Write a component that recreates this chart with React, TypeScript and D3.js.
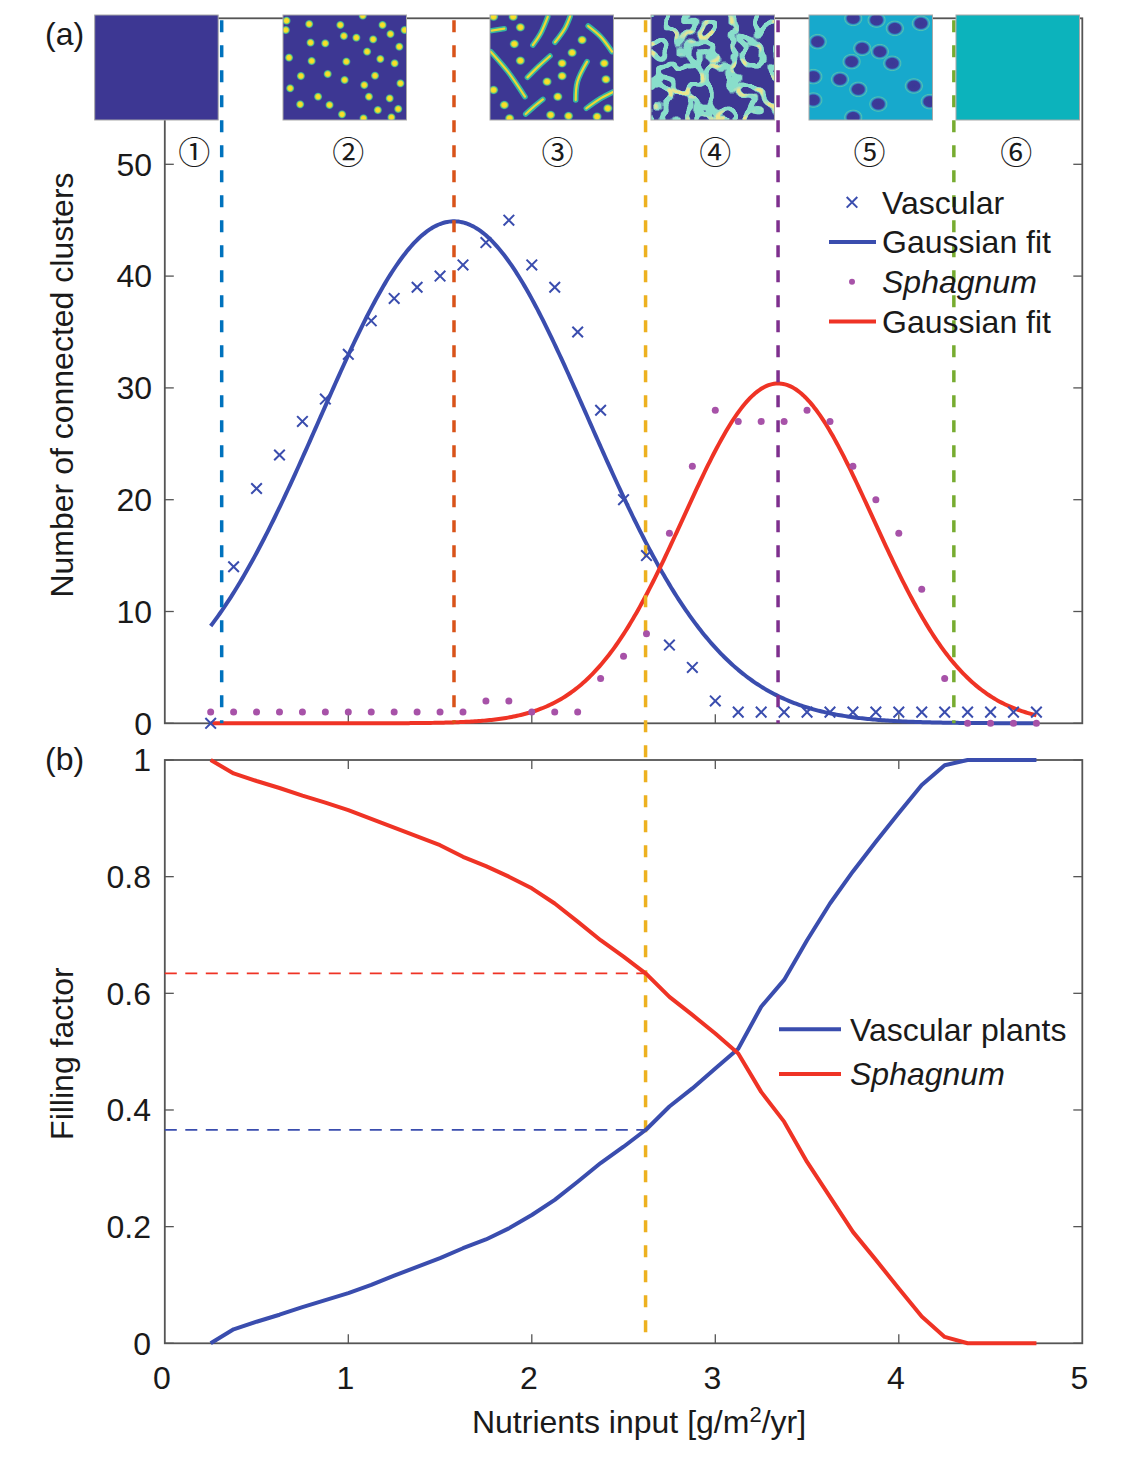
import React from 'react';
import * as d3 from 'd3';

// Nutrient input levels of the simulations [g/m2/yr]
const nutrientInput = [0.25, 0.375, 0.5, 0.625, 0.75, 0.875, 1, 1.125, 1.25, 1.375, 1.5, 1.625, 1.75, 1.875, 2, 2.125, 2.25, 2.375, 2.5, 2.625, 2.75, 2.875, 3, 3.125, 3.25, 3.375, 3.5, 3.625, 3.75, 3.875, 4, 4.125, 4.25, 4.375, 4.5, 4.625, 4.75];

// (a) number of connected clusters
const vascularClusters = [0, 14, 21, 24, 27, 29, 33, 36, 38, 39, 40, 41, 43, 45, 41, 39, 35, 28, 20, 15, 7, 5, 2, 1, 1, 1, 1, 1, 1, 1, 1, 1, 1, 1, 1, 1, 1];
const sphagnumClusters = [1, 1, 1, 1, 1, 1, 1, 1, 1, 1, 1, 1, 2, 2, 1, 1, 1, 4, 6, 8, 17, 23, 28, 27, 27, 27, 28, 27, 23, 20, 17, 12, 4, 0, 0, 0, 0];

// (b) filling factor
const vascularFilling = [0, 0.024, 0.037, 0.049, 0.062, 0.074, 0.086, 0.1, 0.116, 0.131, 0.146, 0.163, 0.178, 0.197, 0.22, 0.246, 0.277, 0.309, 0.337, 0.367, 0.406, 0.437, 0.471, 0.505, 0.577, 0.623, 0.691, 0.754, 0.809, 0.86, 0.909, 0.957, 0.991, 1, 1, 1, 1];
const sphagnumFilling = [1, 0.977, 0.964, 0.952, 0.939, 0.927, 0.914, 0.899, 0.884, 0.869, 0.854, 0.834, 0.818, 0.8, 0.78, 0.754, 0.723, 0.691, 0.663, 0.633, 0.594, 0.563, 0.531, 0.497, 0.431, 0.38, 0.311, 0.251, 0.191, 0.143, 0.094, 0.046, 0.011, 0, 0, 0, 0];

// Gaussian fits  a * exp(-((x - b) / c)^2)
const vascularFit = { a: 44.9, b: 1.576, c: 1.035 };
const sphagnumFit = { a: 30.4, b: 3.342, c: 0.728 };

// Regime boundaries (nutrient input)
const regimeBounds = [0.31, vascularFit.b, 2.62, sphagnumFit.b, 4.3];
const regimeLabels = ['①', '②', '③', '④', '⑤', '⑥'];
const regimeLabelX = [0.16, 1.0, 2.14, 3.0, 3.84, 4.64];

const clusterTicks = [0, 10, 20, 30, 40, 50];
const fillingTicks = [0, 0.2, 0.4, 0.6, 0.8, 1];
const nutrientTicks = [0, 1, 2, 3, 4, 5];

// Pattern snapshots: spot / stripe / hole positions as fractions of a tile
const spotsTile2 = [[.029,.054],[.023,.143],[.212,.086],[.464,.095],[.646,.006],[.806,.095],[.985,.143],[.493,.2],[.594,.216],[.73,.232],[.87,.181],[.223,.263],[.342,.27],[.681,.349],[.942,.302],[.049,.406],[.232,.438],[.513,.444],[.788,.419],[.904,.46],[.145,.581],[.362,.562],[.499,.619],[.745,.578],[.951,.651],[.058,.698],[.658,.667],[.284,.778],[.696,.778],[.864,.794],[.139,.851],[.377,.857],[.768,.905],[.933,.895],[.478,.946],[.652,.984],[.878,.975]];
const spotsTile3 = [[.029,.016],[.188,.016],[.246,.117],[.197,.276],[.746,.238],[.665,.359],[.925,.46],[.246,.435],[.584,.46],[.584,.581],[.462,.635],[.939,.613],[.029,.714],[.549,.778],[.116,.857],[.491,.952],[.636,.962],[.867,.968],[.954,.889],[.159,.984]];
const stripesTile3 = [
  [[.014,.149],[.116,.13]],
  [[.347,.286],[.41,.175],[.468,.016]],
  [[.526,.26],[.607,.127],[.65,.01]],
  [[.795,.105],[.896,.206],[.988,.349]],
  [[.006,.349],[.145,.54],[.283,.778]],
  [[.303,.594],[.39,.492],[.486,.39]],
  [[.694,.81],[.708,.635],[.786,.444]],
  [[.78,.889],[.896,.794],[1.0,.73]],
  [[.289,.943],[.361,.867],[.428,.803]],
];
const holesTile5 = [[.358,.032],[.547,.048],[.695,.127],[.906,.079],[.07,.254],[.431,.317],[.574,.349],[.345,.444],[.674,.46],[.035,.587],[.251,.613],[.399,.708],[.849,.676],[.035,.81],[.561,.848],[.978,.825],[.358,.975]];

// ---- layout ----
const W = 1131, H = 1460;
const X0 = 164.8, X1 = 1082.3;
const A_TOP = 18.3, A_BOT = 723.3;
const B_TOP = 760, B_BOT = 1343.3;
const tileLeft = [94.7, 283, 490, 651, 809, 956];
const TILE_W = 123.5, TILE_TOP = 15, TILE_H = 105;

// ---- styles ----
const FONT = 'Liberation Sans, Arial, Helvetica, sans-serif';
const AXIS = '#555555';
const BLUE = '#3a4dae';
const RED = '#ef3325';
const PURPLE_DOT = '#a752a8';
const boundColors = ['#0072BD', '#D95319', '#EDB120', '#7E2F8E', '#77AC30'];
const LOW = '#3d3793';
const TEAL = '#0cb3bc';
const LW = 4;

const xS = d3.scaleLinear().domain([0, 5]).range([X0, X1]);
const yA = d3.scaleLinear().domain([0, 50]).range([A_BOT, 164.3]);
const yB = d3.scaleLinear().domain([0, 1]).range([B_BOT, B_TOP]);

const gauss = (p: { a: number; b: number; c: number }) => (x: number) => p.a * Math.exp(-Math.pow((x - p.b) / p.c, 2));
const fitGrid = d3.range(0, 451).map((i) => 0.25 + i * 0.01);

const lineA = d3.line<number[]>().x((d) => xS(d[0])).y((d) => yA(d[1]));
const lineB = d3.line<number[]>().x((d) => xS(d[0])).y((d) => yB(d[1]));

function Ticks({ top, bottom, yScale, yTicks }: any) {
  const len = 9;
  return (
    <g stroke={AXIS} strokeWidth={1.3}>
      {yTicks.map((t: number) => (
        <g key={'y' + t}>
          <line x1={X0} x2={X0 + len} y1={yScale(t)} y2={yScale(t)} />
          <line x1={X1} x2={X1 - len} y1={yScale(t)} y2={yScale(t)} />
        </g>
      ))}
      {nutrientTicks.slice(1, -1).map((t) => (
        <g key={'x' + t}>
          <line x1={xS(t)} x2={xS(t)} y1={bottom} y2={bottom - len} />
          <line x1={xS(t)} x2={xS(t)} y1={top} y2={top + len} />
        </g>
      ))}
    </g>
  );
}

function Tiles() {
  const stripe = (l: number) =>
    d3.line<number[]>().x((d) => l + d[0] * TILE_W).y((d) => TILE_TOP + d[1] * TILE_H).curve(d3.curveCatmullRom.alpha(0.5));
  // narrow band of the noise field around its median value
  const band = (peak: number, half: number) =>
    d3.range(41).map((i) => (Math.abs(i - 20) <= half ? peak : 0)).join(' ');
  return (
    <g>
      <defs>
        {tileLeft.map((l, i) => (
          <clipPath id={'tile' + i} key={i}>
            <rect x={l} y={TILE_TOP} width={TILE_W} height={TILE_H} />
          </clipPath>
        ))}
        <radialGradient id="spot">
          <stop offset="0" stopColor="#fbe722" />
          <stop offset="0.45" stopColor="#f2da2e" />
          <stop offset="0.72" stopColor="#45bc8e" />
          <stop offset="1" stopColor={LOW} stopOpacity="0" />
        </radialGradient>
        <radialGradient id="hole">
          <stop offset="0" stopColor="#3a3896" />
          <stop offset="0.58" stopColor="#3d3a98" />
          <stop offset="0.72" stopColor="#3093c8" />
          <stop offset="0.86" stopColor="#4fc3b3" />
          <stop offset="1" stopColor="#17a9cc" stopOpacity="0" />
        </radialGradient>
        <filter id="soft" x="-10%" y="-10%" width="120%" height="120%">
          <feGaussianBlur stdDeviation="0.6" />
        </filter>
        <filter id="maze" filterUnits="userSpaceOnUse" x={tileLeft[3]} y={TILE_TOP} width={TILE_W} height={TILE_H}>
          <feTurbulence type="fractalNoise" baseFrequency="0.045" numOctaves="2" seed="4" result="noise" />
          <feColorMatrix in="noise" type="matrix" values="0 0 0 0 0.25  0 0 0 0 0.73  0 0 0 0 0.6  1 0 0 0 0" result="teal" />
          <feComponentTransfer in="teal" result="band">
            <feFuncA type="table" tableValues={band(1, 1)} />
          </feComponentTransfer>
          <feMorphology in="band" operator="dilate" radius="0.8" result="bandD" />
          <feGaussianBlur in="bandD" stdDeviation="0.6" result="bandS" />
          <feColorMatrix in="noise" type="matrix" values="0 0 0 0 0.95  0 0 0 0 0.8  0 0 0 0 0.2  1 0 0 0 0" result="yel" />
          <feComponentTransfer in="yel" result="core">
            <feFuncA type="table" tableValues={band(0.9, 0)} />
          </feComponentTransfer>
          <feMorphology in="core" operator="dilate" radius="0.5" result="coreD" />
          <feTurbulence type="fractalNoise" baseFrequency="0.07" numOctaves="1" seed="11" result="n2" />
          <feColorMatrix in="n2" type="matrix" values="0 0 0 0 0  0 0 0 0 0  0 0 0 0 0  1 0 0 0 0" result="m2" />
          <feComponentTransfer in="m2" result="mask">
            <feFuncA type="table" tableValues="0 0 0 0 0 0 1 1 1 1" />
          </feComponentTransfer>
          <feComposite in="coreD" in2="mask" operator="in" result="core2" />
          <feMerge>
            <feMergeNode in="bandS" />
            <feMergeNode in="core2" />
          </feMerge>
        </filter>
      </defs>

      {/* 1: bare */}
      <rect x={tileLeft[0]} y={TILE_TOP} width={TILE_W} height={TILE_H} fill={LOW} />

      {/* 2: spots */}
      <g clipPath="url(#tile1)">
        <rect x={tileLeft[1]} y={TILE_TOP} width={TILE_W} height={TILE_H} fill={LOW} />
        {spotsTile2.map((s, i) => (
          <circle key={i} cx={tileLeft[1] + s[0] * TILE_W} cy={TILE_TOP + s[1] * TILE_H} r={4.8} fill="url(#spot)" />
        ))}
      </g>

      {/* 3: spots and stripes */}
      <g clipPath="url(#tile2)">
        <rect x={tileLeft[2]} y={TILE_TOP} width={TILE_W} height={TILE_H} fill={LOW} />
        <g filter="url(#soft)" fill="none" strokeLinecap="round" strokeLinejoin="round">
          {stripesTile3.map((s, i) => (
            <g key={i}>
              <path d={stripe(tileLeft[2])(s) || ''} stroke="#34b6a2" strokeWidth={5.5} />
              <path d={stripe(tileLeft[2])(s) || ''} stroke="#eed832" strokeWidth={2.2} />
            </g>
          ))}
        </g>
        {spotsTile3.map((s, i) => (
          <ellipse key={i} cx={tileLeft[2] + s[0] * TILE_W} cy={TILE_TOP + s[1] * TILE_H} rx={5.4} ry={5} fill="url(#spot)" />
        ))}
      </g>

      {/* 4: labyrinth */}
      <g clipPath="url(#tile3)">
        <rect x={tileLeft[3]} y={TILE_TOP} width={TILE_W} height={TILE_H} fill={LOW} />
        <rect x={tileLeft[3]} y={TILE_TOP} width={TILE_W} height={TILE_H} fill="#000" filter="url(#maze)" />
      </g>

      {/* 5: holes */}
      <g clipPath="url(#tile4)">
        <rect x={tileLeft[4]} y={TILE_TOP} width={TILE_W} height={TILE_H} fill="#17a9cc" />
        {holesTile5.map((s, i) => (
          <ellipse key={i} cx={tileLeft[4] + s[0] * TILE_W} cy={TILE_TOP + s[1] * TILE_H} rx={10} ry={8.5} fill="url(#hole)" />
        ))}
      </g>

      {/* 6: full cover */}
      <rect x={tileLeft[5]} y={TILE_TOP} width={TILE_W} height={TILE_H} fill={TEAL} />

      {tileLeft.map((l, i) => (
        <rect key={i} x={l} y={TILE_TOP} width={TILE_W} height={TILE_H} fill="none" stroke="#a8a8a8" strokeWidth={1} />
      ))}
    </g>
  );
}

function Cross({ x, y, s = 5.3 }: { x: number; y: number; s?: number }) {
  return <path d={`M${x - s},${y - s}L${x + s},${y + s}M${x - s},${y + s}L${x + s},${y - s}`} stroke={BLUE} strokeWidth={2} fill="none" />;
}

export default function App() {
  const vFitPts = fitGrid.map((x) => [x, gauss(vascularFit)(x)]);
  const sFitPts = fitGrid.map((x) => [x, gauss(sphagnumFit)(x)]);
  const vFillPts = nutrientInput.map((x, i) => [x, vascularFilling[i]]);
  const sFillPts = nutrientInput.map((x, i) => [x, sphagnumFilling[i]]);

  // filling factors at the highlighted boundary
  const xMark = regimeBounds[2];
  const interp = (ys: number[]) => {
    const i = d3.bisectLeft(nutrientInput, xMark);
    const t = (xMark - nutrientInput[i - 1]) / (nutrientInput[i] - nutrientInput[i - 1]);
    return ys[i - 1] + t * (ys[i] - ys[i - 1]);
  };
  const vMark = interp(vascularFilling);
  const sMark = interp(sphagnumFilling);

  const textProps = { fontFamily: FONT, fontSize: 32, fill: '#1a1a1a' };

  return (
    <svg width={W} height={H} style={{ position: 'absolute', left: 0, top: 0, background: '#fff' }}>
      <rect width={W} height={H} fill="#fff" />

      {/* ---------- panel (a) ---------- */}
      <rect x={X0} y={A_TOP} width={X1 - X0} height={A_BOT - A_TOP} fill="none" stroke={AXIS} strokeWidth={1.8} />
      <Ticks top={A_TOP} bottom={A_BOT} yScale={yA} yTicks={clusterTicks} />

      <path d={lineA(vFitPts) || ''} fill="none" stroke={BLUE} strokeWidth={LW} />
      <path d={lineA(sFitPts) || ''} fill="none" stroke={RED} strokeWidth={LW} />

      {regimeBounds.map((b, i) => (
        <line key={i} x1={xS(b)} x2={xS(b)} y1={A_TOP + 2} y2={i === 2 ? B_BOT : A_BOT} stroke={boundColors[i]} strokeWidth={3.5} strokeDasharray="12 13" />
      ))}

      {nutrientInput.map((x, i) => (
        <Cross key={'v' + i} x={xS(x)} y={yA(vascularClusters[i])} />
      ))}
      {nutrientInput.map((x, i) => (
        <circle key={'s' + i} cx={xS(x)} cy={yA(sphagnumClusters[i])} r={3.5} fill={PURPLE_DOT} />
      ))}

      {clusterTicks.map((t) => (
        <text key={t} x={152} y={yA(t)} dy="0.35em" textAnchor="end" {...textProps}>{t}</text>
      ))}
      <text transform="translate(73,385) rotate(-90)" textAnchor="middle" {...textProps}>Number of connected clusters</text>
      <text x={45} y={45} {...textProps}>(a)</text>

      <Tiles />

      {regimeLabels.map((lab, i) => (
        <text key={i} x={xS(regimeLabelX[i])} y={150} textAnchor="middle" dominantBaseline="central" fontFamily="Noto Sans CJK JP, DejaVu Sans, sans-serif" fontSize={32} fill="#1a1a1a">{lab}</text>
      ))}

      {/* legend (a) */}
      <g>
        <Cross x={852} y={202.3} />
        <line x1={829} x2={876} y1={242} y2={242} stroke={BLUE} strokeWidth={LW} />
        <circle cx={852} cy={281.7} r={3} fill={PURPLE_DOT} />
        <line x1={829} x2={876} y1={321.4} y2={321.4} stroke={RED} strokeWidth={LW} />
        <text x={882} y={202.3} dy="0.35em" {...textProps}>Vascular</text>
        <text x={882} y={242} dy="0.35em" {...textProps}>Gaussian fit</text>
        <text x={882} y={281.7} dy="0.35em" fontStyle="italic" {...textProps}>Sphagnum</text>
        <text x={882} y={321.4} dy="0.35em" {...textProps}>Gaussian fit</text>
      </g>

      {/* ---------- panel (b) ---------- */}
      <rect x={X0} y={B_TOP} width={X1 - X0} height={B_BOT - B_TOP} fill="none" stroke={AXIS} strokeWidth={1.8} />
      <Ticks top={B_TOP} bottom={B_BOT} yScale={yB} yTicks={fillingTicks} />

      <line x1={X0} x2={xS(xMark)} y1={yB(sMark)} y2={yB(sMark)} stroke={RED} strokeWidth={1.8} strokeDasharray="12 8.5" />
      <line x1={X0} x2={xS(xMark)} y1={yB(vMark)} y2={yB(vMark)} stroke={BLUE} strokeWidth={1.8} strokeDasharray="12 8.5" />

      <path d={lineB(vFillPts) || ''} fill="none" stroke={BLUE} strokeWidth={LW} strokeLinejoin="round" />
      <path d={lineB(sFillPts) || ''} fill="none" stroke={RED} strokeWidth={LW} strokeLinejoin="round" />

      {fillingTicks.map((t) => (
        <text key={t} x={151} y={yB(t)} dy="0.35em" textAnchor="end" {...textProps}>{t}</text>
      ))}
      {nutrientTicks.map((t) => (
        <text key={t} x={xS(t) - 3} y={1378} dy="0.35em" textAnchor="middle" {...textProps}>{t}</text>
      ))}
      <text transform={`translate(73,${(B_TOP + B_BOT) / 2 + 2}) rotate(-90)`} textAnchor="middle" {...textProps}>Filling factor</text>
      <text x={639} y={1433} textAnchor="middle" {...textProps}>
        Nutrients input [g/m<tspan dy={-11} fontSize={22}>2</tspan><tspan dy={11}>/yr]</tspan>
      </text>
      <text x={45} y={770} {...textProps}>(b)</text>

      {/* legend (b) */}
      <g>
        <line x1={779} x2={841} y1={1029.3} y2={1029.3} stroke={BLUE} strokeWidth={LW} />
        <line x1={779} x2={841} y1={1074} y2={1074} stroke={RED} strokeWidth={LW} />
        <text x={850} y={1029.3} dy="0.35em" {...textProps}>Vascular plants</text>
        <text x={850} y={1074} dy="0.35em" fontStyle="italic" {...textProps}>Sphagnum</text>
      </g>
    </svg>
  );
}
